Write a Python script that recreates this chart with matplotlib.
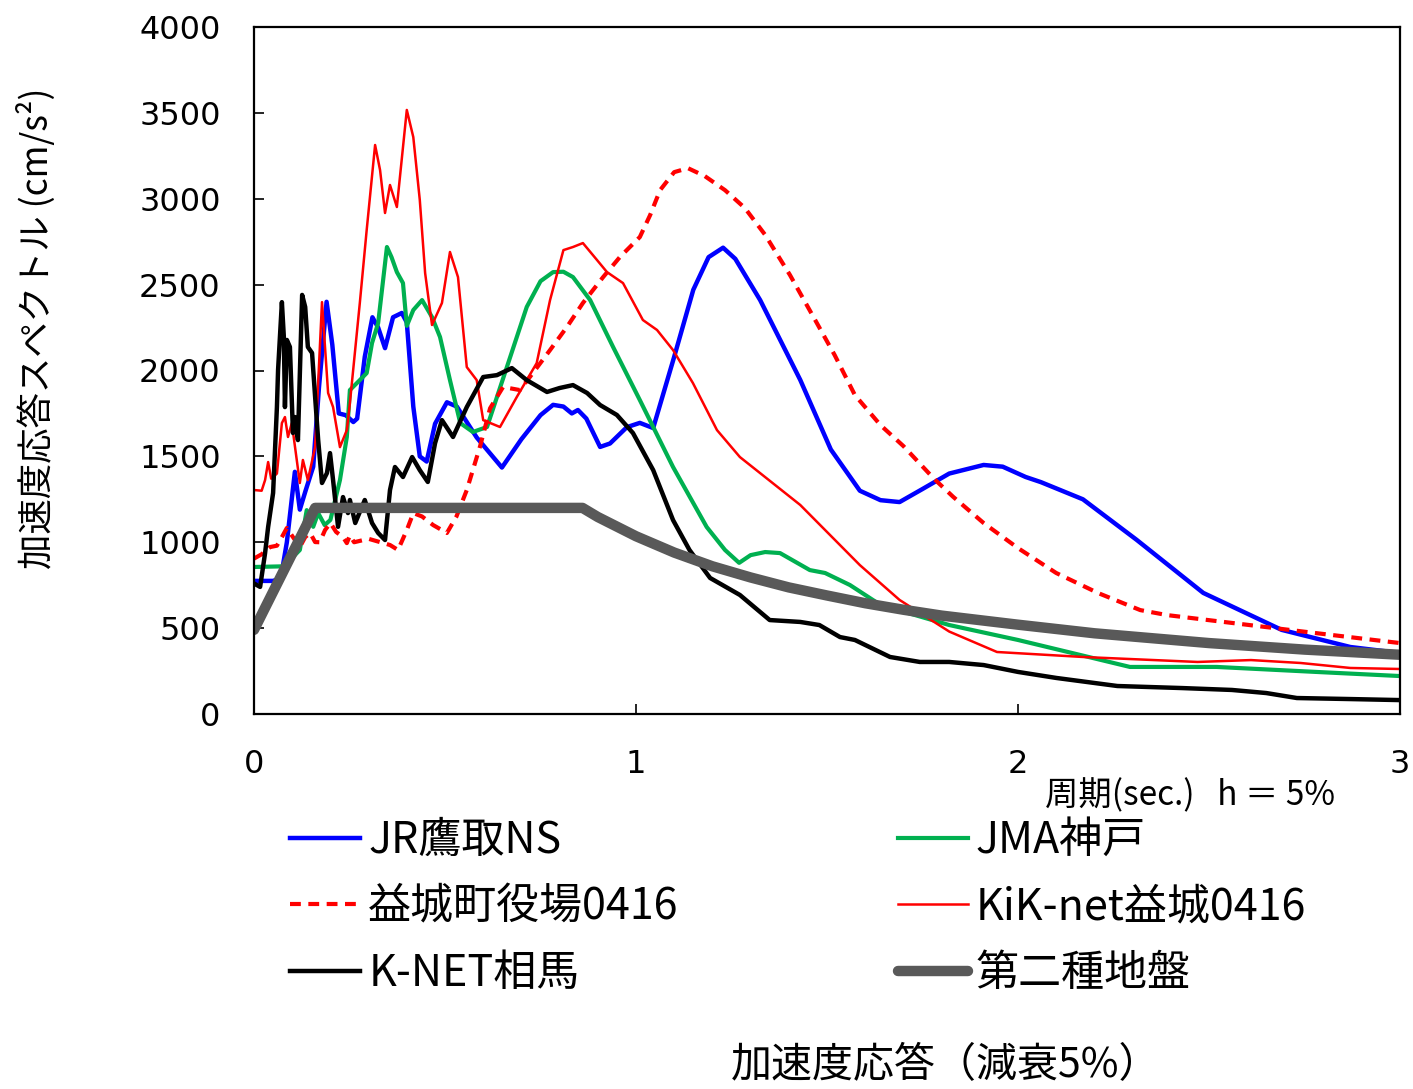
import matplotlib
matplotlib.use('Agg')
import matplotlib.pyplot as plt

plt.rcParams['font.family'] = ['Noto Sans CJK JP', 'DejaVu Sans']

# 周期 (sec) と 加速度応答 (cm/s2)
t_jr = [0, 0.05, 0.07, 0.086, 0.107, 0.12, 0.135, 0.155, 0.17, 0.19, 0.205, 0.222, 0.24, 0.26,
        0.27, 0.29, 0.31, 0.325, 0.343, 0.364, 0.387, 0.40, 0.417, 0.434, 0.452, 0.474, 0.505,
        0.531, 0.583, 0.649, 0.70, 0.75, 0.783, 0.81, 0.832, 0.848, 0.87, 0.906, 0.932, 0.976,
        1.01, 1.045, 1.10, 1.15, 1.19, 1.228, 1.26, 1.325, 1.43, 1.51, 1.586, 1.64, 1.69,
        1.75, 1.82, 1.91, 1.96, 2.02, 2.06, 2.17, 2.31, 2.485, 2.69, 2.87, 3.0]
a_jr = [775, 775, 790, 1000, 1410, 1190, 1300, 1440, 1900, 2400, 2150, 1750, 1740, 1700,
        1720, 2080, 2310, 2250, 2130, 2310, 2335, 2280, 1790, 1500, 1470, 1690, 1815,
        1790, 1610, 1435, 1600, 1740, 1800, 1790, 1750, 1770, 1720, 1555, 1575, 1670,
        1695, 1665, 2080, 2470, 2660, 2715, 2650, 2410, 1945, 1540, 1300, 1245, 1234,
        1310, 1400, 1450, 1440, 1380, 1350, 1250, 1015, 705, 490, 390, 355]

t_jma = [0, 0.08, 0.094, 0.12, 0.138, 0.155, 0.168, 0.185, 0.2, 0.225, 0.243, 0.251, 0.277,
         0.295, 0.309, 0.325, 0.348, 0.36, 0.374, 0.39, 0.40, 0.417, 0.44, 0.466, 0.487,
         0.513, 0.54, 0.573, 0.61, 0.662, 0.714, 0.75, 0.783, 0.81, 0.835, 0.88, 0.94, 1.01,
         1.097, 1.185, 1.233, 1.27, 1.30, 1.338, 1.377, 1.455, 1.495, 1.56, 1.64, 1.82,
         2.0, 2.293, 2.52, 2.78, 3.0]
a_jma = [856, 860, 896, 955, 1187, 1090, 1170, 1100, 1130, 1362, 1613, 1886, 1944,
         1985, 2160, 2276, 2719, 2660, 2573, 2509, 2260, 2352, 2410, 2311, 2195,
         1944, 1694, 1642, 1671, 2020, 2370, 2520, 2573, 2575, 2544, 2410, 2137, 1828,
         1438, 1089, 955, 880, 925, 943, 937, 838, 821, 751, 635, 518,
         431, 274, 274, 245, 221]

t_mashiki = [0, 0.02, 0.042, 0.06, 0.073, 0.086, 0.102, 0.12, 0.134, 0.147, 0.16, 0.172,
             0.186, 0.2, 0.215, 0.233, 0.243, 0.251, 0.262, 0.30, 0.356, 0.377, 0.40, 0.417,
             0.44, 0.469, 0.505, 0.53, 0.557, 0.592, 0.618, 0.652, 0.696, 0.73, 0.775,
             0.819, 0.861, 0.914, 0.958, 1.01, 1.037, 1.063, 1.10, 1.136, 1.18, 1.233,
             1.285, 1.338, 1.403, 1.469, 1.52, 1.573, 1.64, 1.70, 1.78, 1.83, 1.91, 2.0,
             2.10, 2.21, 2.32, 2.39, 2.52, 2.65, 2.78, 3.0]
a_mashiki = [905, 930, 972, 980, 1030, 1083, 1030, 972, 1030, 1054, 1001, 1000,
             1071, 1112, 1060, 1030, 995, 1040, 1000, 1020, 984, 955, 1071, 1170,
             1150, 1100, 1054, 1150, 1304, 1560, 1780, 1904, 1886, 1985, 2119,
             2253, 2393, 2544, 2661, 2777, 2905, 3050, 3155, 3178, 3132, 3050,
             2946, 2790, 2556, 2294, 2090, 1857, 1682, 1560, 1370, 1265, 1112, 966,
             821, 704, 605, 576, 541, 506, 471, 413]

t_kik = [0, 0.02, 0.029, 0.037, 0.045, 0.06, 0.073, 0.081, 0.089, 0.099, 0.12, 0.128, 0.141,
         0.16, 0.178, 0.194, 0.207, 0.225, 0.243, 0.251, 0.277, 0.295, 0.317, 0.33, 0.343,
         0.356, 0.374, 0.40, 0.417, 0.434, 0.448, 0.466, 0.492, 0.513, 0.534, 0.557, 0.583,
         0.60, 0.644, 0.688, 0.74, 0.775, 0.81, 0.835, 0.861, 0.898, 0.924, 0.966, 1.018,
         1.055, 1.097, 1.149, 1.212, 1.272, 1.43, 1.586, 1.69, 1.82, 1.945, 2.17, 2.47,
         2.61, 2.74, 2.87, 3.0]
a_kik = [1304, 1300, 1362, 1467, 1370, 1400, 1694, 1729, 1613, 1694, 1345, 1479, 1362,
         1554, 2398, 1869, 1787, 1554, 1653, 1810, 2393, 2818, 3313, 3167, 2917,
         3080, 2952, 3517, 3359, 2993, 2567, 2265, 2393, 2690, 2544, 2020, 1944,
         1711, 1671, 1846, 2043, 2410, 2701, 2719, 2742, 2643, 2573, 2509, 2294,
         2236, 2119, 1927, 1653, 1496, 1217, 867, 664, 480, 361, 332, 303,
         314, 297, 268, 262]

t_knet = [0, 0.016, 0.029, 0.037, 0.05, 0.06, 0.063, 0.073, 0.078, 0.081, 0.086, 0.094, 0.102,
          0.107, 0.115, 0.126, 0.134, 0.141, 0.152, 0.16, 0.168, 0.178, 0.191, 0.199, 0.207,
          0.22, 0.233, 0.246, 0.251, 0.265, 0.29, 0.309, 0.325, 0.343, 0.356, 0.369, 0.39,
          0.414, 0.434, 0.455, 0.474, 0.492, 0.521, 0.557, 0.60, 0.636, 0.675, 0.714, 0.767,
          0.80, 0.835, 0.872, 0.906, 0.95, 0.992, 1.045, 1.097, 1.14, 1.194, 1.272, 1.35,
          1.43, 1.48, 1.534, 1.573, 1.665, 1.743, 1.82, 1.91, 2.0, 2.10, 2.26, 2.43, 2.56,
          2.65, 2.73, 2.87, 3.0]
a_knet = [760, 740, 937, 1089, 1287, 1787, 2003, 2398, 2200, 1787, 2178, 2137, 1636,
          1729, 1595, 2440, 2370, 2137, 2102, 1846, 1595, 1345, 1403, 1519, 1362,
          1090, 1263, 1170, 1246, 1112, 1246, 1112, 1054, 1013, 1304, 1438, 1380,
          1496, 1420, 1351, 1577, 1711, 1613, 1787, 1962, 1973, 2014, 1944, 1875,
          1898, 1915, 1869, 1799, 1741, 1636, 1420, 1129, 955, 792, 693, 547,
          536, 518, 448, 431, 332, 303, 303, 285, 245, 210, 163, 151, 140,
          122, 93, 87, 81]

t_type2 = [0, 0.16, 0.86, 0.9, 1.0, 1.1, 1.2, 1.3, 1.4, 1.5, 1.6, 1.7, 1.8, 2.0, 2.2, 2.5,
           2.75, 3.0]
a_type2 = [490, 1200, 1200, 1147, 1035, 940, 860, 795, 737, 690, 645, 607, 573, 520, 470,
           413, 375, 345]

fig = plt.figure(figsize=(14.13, 10.89), dpi=100)
ax = fig.add_axes([254/1413, 1-714/1089, (1400-254)/1413, (714-27)/1089])

ax.plot(t_jr, a_jr, color='#0000ff', lw=3.2, label='JR鷹取NS')
ax.plot(t_jma, a_jma, color='#00b050', lw=3.0, label='JMA神戸')
ax.plot(t_mashiki, a_mashiki, color='#ff0000', lw=3.0, ls=(0, (2.6, 1.8)), label='益城町役場0416')
ax.plot(t_kik, a_kik, color='#ff0000', lw=1.8, label='KiK-net益城0416')
ax.plot(t_knet, a_knet, color='#000000', lw=3.2, label='K-NET相馬')
ax.plot(t_type2, a_type2, color='#595959', lw=7.5, solid_capstyle='round', label='第二種地盤')

ax.set_xlim(0, 3)
ax.set_ylim(0, 4000)
ax.set_xticks([0, 1, 2, 3])
ax.set_yticks(range(0, 4001, 500))
ax.tick_params(direction='in', length=7, width=1.2, labelsize=23, colors='black')
ax.tick_params(axis='y', pad=24)
ax.tick_params(axis='x', pad=25)
for lab in ax.get_xticklabels() + ax.get_yticklabels():
    lab.set_family('DejaVu Sans')
for sp in ax.spines.values():
    sp.set_linewidth(1.6)

h, l = ax.get_legend_handles_labels()
order = [0, 2, 4, 1, 3, 5]
fig.legend([h[i] for i in order], [l[i] for i in order], ncol=2, loc='upper left',
           bbox_to_anchor=(290/1413, 1-819/1089), frameon=False, fontsize=31,
           handlelength=1.63, handletextpad=0.19, columnspacing=5.08, labelspacing=0.52,
           borderpad=0, borderaxespad=0)

fig.text(1045/1413, 1-796/1089, '周期(sec.)   h ＝ 5%', fontsize=24, ha='left', va='center')
fig.text(946/1413, 1-1066/1089, '加速度応答（減衰5%）', fontsize=29.5, ha='center', va='center')
fig.text(36/1413, 1-328/1089, '加速度応答スペクトル (cm/s²)', rotation=90, fontsize=25.5,
         ha='center', va='center')

fig.savefig('out.png', dpi=100)
